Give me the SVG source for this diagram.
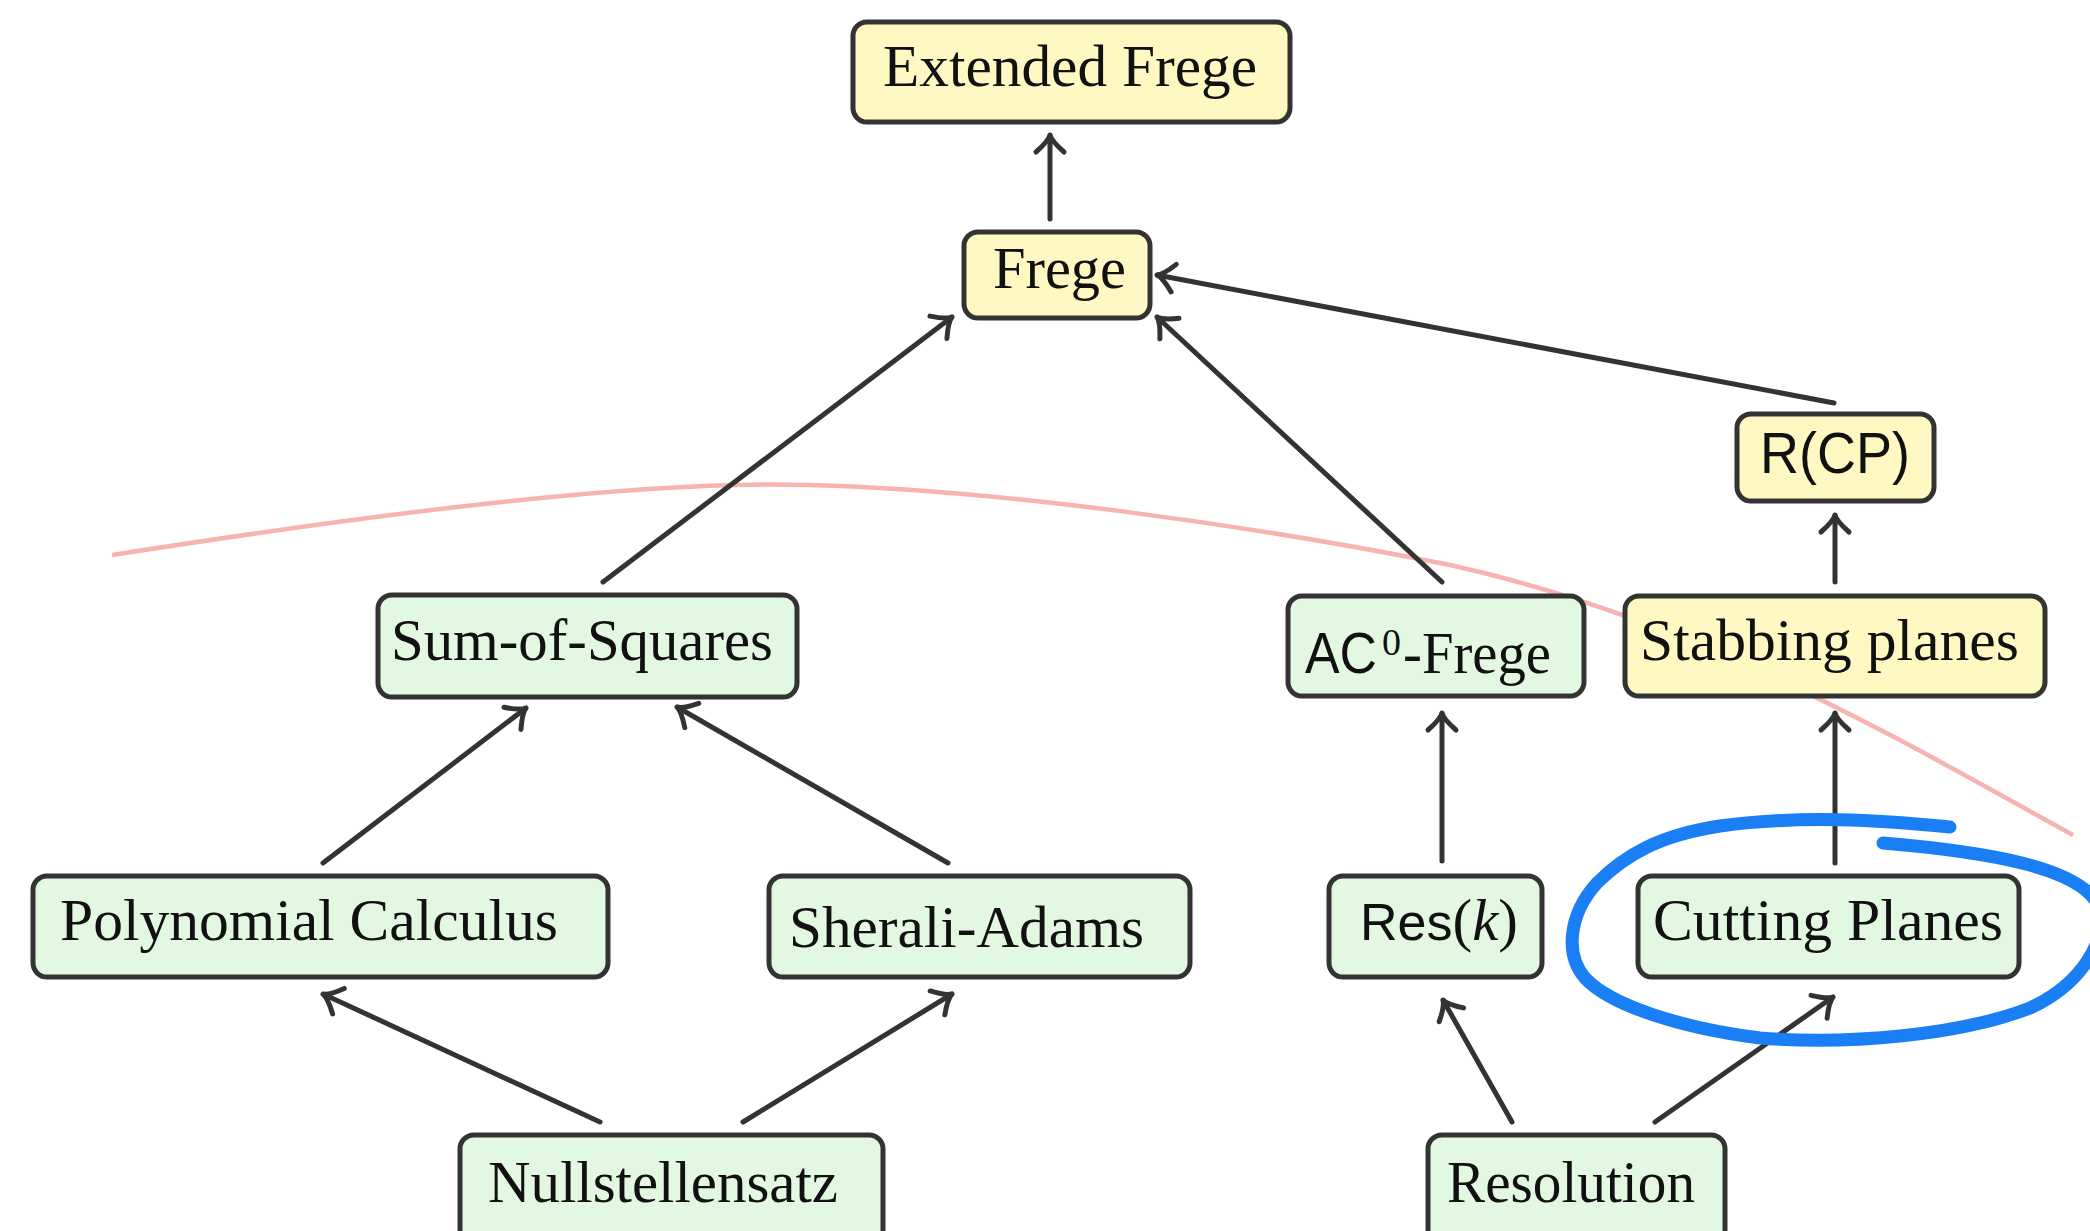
<svg xmlns="http://www.w3.org/2000/svg" width="2090" height="1231" viewBox="0 0 2090 1231">
<defs>
<style>
.box{stroke:#333;stroke-width:5}
.y{fill:#fff8c2}
.g{fill:#e3f8e1}
.t{font-family:"Liberation Serif","Times New Roman",serif;font-size:59px;fill:#111}
.s{font-family:"Liberation Sans",Arial,sans-serif;font-size:57px;fill:#111}
.e{stroke:#333;stroke-width:5;fill:none;stroke-linecap:round;marker-end:url(#ah)}
</style>
<marker id="ah" markerUnits="userSpaceOnUse" markerWidth="40" markerHeight="40" refX="0" refY="0" viewBox="-20 -20 40 40" orient="auto" overflow="visible">
<path d="M-17,-14 C-10,-6 -4,-1 0,0 C-4,1 -10,6 -17,14" fill="none" stroke="#333" stroke-width="5" stroke-linecap="round"/>
</marker>
</defs>
<rect width="2090" height="1231" fill="#fff"/>
<path id="pink" d="M112,555 C400,510 650,480 810,485 C1000,490 1250,525 1450,565 C1700,620 1900,740 2073,835" fill="none" stroke="#f7b2b2" stroke-width="4.5"/>
<g id="connectors">
<line class="e" x1="1050" y1="219" x2="1050" y2="135"/>
<line class="e" x1="1834" y1="403" x2="1157" y2="275"/>
<line class="e" x1="603" y1="582" x2="952" y2="317"/>
<line class="e" x1="1442" y1="582" x2="1157" y2="317"/>
<line class="e" x1="1835" y1="582" x2="1835" y2="515"/>
<line class="e" x1="323" y1="863" x2="526" y2="708"/>
<line class="e" x1="948" y1="863" x2="677" y2="707"/>
<line class="e" x1="1442" y1="861" x2="1442" y2="713"/>
<line class="e" x1="1835" y1="863" x2="1835" y2="713"/>
<line class="e" x1="600" y1="1122" x2="323" y2="994"/>
<line class="e" x1="743" y1="1122" x2="952" y2="994"/>
<line class="e" x1="1512" y1="1122" x2="1443" y2="1000"/>
<line class="e" x1="1655" y1="1122" x2="1833" y2="997"/>
</g>
<g id="n-extended-frege"><rect class="box y" x="853" y="22" width="437" height="100" rx="14"/><text class="t" x="883" y="86" textLength="374" lengthAdjust="spacingAndGlyphs">Extended Frege</text></g>
<g id="n-frege"><rect class="box y" x="964" y="232" width="186" height="86" rx="14"/><text class="t" x="993" y="288" textLength="133" lengthAdjust="spacingAndGlyphs">Frege</text></g>
<g id="n-rcp"><rect class="box y" x="1737" y="414" width="197" height="87" rx="14"/><text class="s" x="1760" y="473" textLength="150" lengthAdjust="spacingAndGlyphs">R(CP)</text></g>
<g id="n-sos"><rect class="box g" x="378" y="595" width="419" height="102" rx="14"/><text class="t" x="391" y="660" textLength="382" lengthAdjust="spacingAndGlyphs">Sum-of-Squares</text></g>
<g id="n-ac0"><rect class="box g" x="1288" y="596" width="296" height="100" rx="14"/><text class="s" x="1305" y="673" textLength="72" lengthAdjust="spacingAndGlyphs">AC</text><text class="t" x="1382" y="655" style="font-size:38px">0</text><text class="t" x="1403" y="673" textLength="148" lengthAdjust="spacingAndGlyphs">-Frege</text></g>
<g id="n-stabbing"><rect class="box y" x="1625" y="596" width="420" height="100" rx="14"/><text class="t" x="1640" y="660" textLength="379" lengthAdjust="spacingAndGlyphs">Stabbing planes</text></g>
<g id="n-poly"><rect class="box g" x="33" y="876" width="575" height="101" rx="14"/><text class="t" x="60" y="940" textLength="498" lengthAdjust="spacingAndGlyphs">Polynomial Calculus</text></g>
<g id="n-sherali"><rect class="box g" x="769" y="876" width="421" height="101" rx="14"/><text class="t" x="789" y="947" textLength="355" lengthAdjust="spacingAndGlyphs">Sherali-Adams</text></g>
<g id="n-resk"><rect class="box g" x="1329" y="876" width="213" height="101" rx="14"/><text class="t" x="1360" y="940"><tspan style="font-family:'Liberation Sans',Arial,sans-serif;font-size:52px">Res</tspan>(<tspan font-style="italic">k</tspan>)</text></g>
<g id="n-cutting"><rect class="box g" x="1638" y="876" width="381" height="101" rx="14"/><text class="t" x="1653" y="940" textLength="350" lengthAdjust="spacingAndGlyphs">Cutting Planes</text></g>
<g id="n-null"><rect class="box g" x="460" y="1135" width="423" height="120" rx="14"/><text class="t" x="488" y="1202" textLength="350" lengthAdjust="spacingAndGlyphs">Nullstellensatz</text></g>
<g id="n-resolution"><rect class="box g" x="1428" y="1135" width="297" height="120" rx="14"/><text class="t" x="1447" y="1202" textLength="248" lengthAdjust="spacingAndGlyphs">Resolution</text></g>
<path id="blue-circle" d="M1883,843 C1990,852 2080,868 2098,905 C2110,940 2080,985 2030,1008 C1960,1035 1850,1045 1760,1038 C1680,1028 1610,1005 1585,978 C1565,955 1568,915 1597,883 C1625,855 1660,835 1720,826 C1800,815 1880,820 1950,827" fill="none" stroke="#1a7ff5" stroke-width="13" stroke-linecap="round" stroke-linejoin="round"/>
</svg>
